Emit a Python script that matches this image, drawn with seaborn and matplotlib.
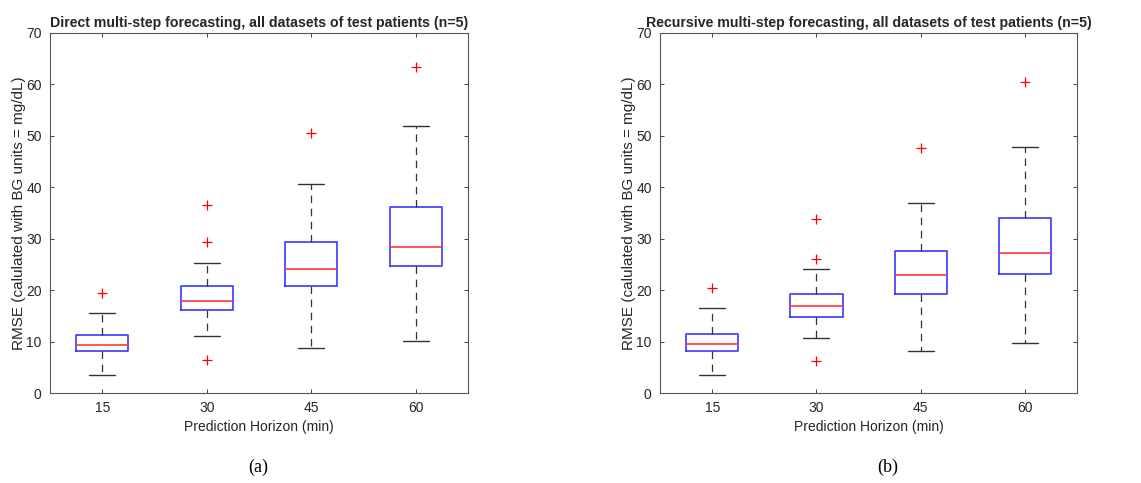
import numpy as np
import pandas as pd
import matplotlib
matplotlib.use("Agg")
import matplotlib.pyplot as plt
import seaborn as sns

# ---------------- data ----------------
horizons = ["15", "30", "45", "60"]

# five-number summaries: lower whisker, Q1, median, Q3, upper whisker
direct_whisker_low = [3.6, 11.1, 8.7, 10.2]
direct_q1 = [8.1, 16.1, 20.9, 24.6]
direct_median = [9.4, 17.8, 24.2, 28.4]
direct_q3 = [11.3, 20.9, 29.3, 36.2]
direct_whisker_high = [15.5, 25.3, 40.7, 52.0]
direct_outlier_h = ["15", "30", "30", "30", "45", "60"]
direct_outlier_v = [19.5, 6.4, 29.4, 36.6, 50.6, 63.4]

recursive_whisker_low = [3.6, 10.6, 8.1, 9.8]
recursive_q1 = [8.1, 14.8, 19.2, 23.1]
recursive_median = [9.5, 17.0, 22.9, 27.3]
recursive_q3 = [11.5, 19.2, 27.6, 34.0]
recursive_whisker_high = [16.5, 24.1, 36.9, 47.8]
recursive_outlier_h = ["15", "30", "30", "30", "45", "60"]
recursive_outlier_v = [20.5, 6.2, 26.1, 33.8, 47.6, 60.4]

titles = ["Direct multi-step forecasting, all datasets of test patients (n=5)",
          "Recursive multi-step forecasting, all datasets of test patients (n=5)"]
captions = ["(a)", "(b)"]
xlabel = "Prediction Horizon (min)"
ylabel = "RMSE (calulated with BG units = mg/dL)"


def summary_frame(lo, q1, med, q3, hi):
    rows = []
    for h, a, b, c, d, e in zip(horizons, lo, q1, med, q3, hi):
        for v in (a, b, c, d, e):
            rows.append({"horizon": h, "rmse": v})
    return pd.DataFrame(rows)


panels = [
    (summary_frame(direct_whisker_low, direct_q1, direct_median, direct_q3, direct_whisker_high),
     pd.DataFrame({"horizon": direct_outlier_h, "rmse": direct_outlier_v})),
    (summary_frame(recursive_whisker_low, recursive_q1, recursive_median, recursive_q3, recursive_whisker_high),
     pd.DataFrame({"horizon": recursive_outlier_h, "rmse": recursive_outlier_v})),
]

# ---------------- style ----------------
sns.set_style("white")
plt.rcParams["font.family"] = ["Liberation Sans", "DejaVu Sans"]
axcol = "#262626"
plt.rcParams.update({
    "axes.edgecolor": axcol,
    "axes.linewidth": 0.8,
    "xtick.color": axcol,
    "ytick.color": axcol,
    "text.color": axcol,
    "axes.labelcolor": axcol,
})

fig = plt.figure(figsize=(11.41, 4.83), dpi=100)
axes_pos = [[0.0438, 0.1863, 0.3663, 0.7454],
            [0.5785, 0.1863, 0.3655, 0.7454]]
caption_x = [0.226, 0.778]

for i, (box_df, out_df) in enumerate(panels):
    ax = fig.add_axes(axes_pos[i])
    sns.boxplot(data=box_df, x="horizon", y="rmse", order=horizons, ax=ax,
                whis=(0, 100), width=0.5, fill=False, color="blue",
                linewidth=1.0,
                boxprops={"color": "#3838ff", "linewidth": 1.2},
                medianprops={"color": "#ff3838", "linewidth": 1.2},
                whiskerprops={"color": "#333333", "linewidth": 0.9,
                              "linestyle": (0, (6, 4.5))},
                capprops={"color": "#333333", "linewidth": 1.0},
                showfliers=False)
    sns.stripplot(data=out_df, x="horizon", y="rmse", order=horizons, ax=ax,
                  jitter=False, marker="+", color="red", size=7.5, linewidth=0.9)
    ax.set_xlim(-0.5, 3.5)
    ax.set_ylim(0, 70)
    ax.set_yticks(np.arange(0, 71, 10))
    ax.set_title(titles[i], fontsize=10.2, fontweight="bold", pad=4)
    ax.set_xlabel(xlabel, fontsize=10, labelpad=3)
    ax.set_ylabel(ylabel, fontsize=11, labelpad=0)
    ax.tick_params(direction="in", length=3, width=0.6, labelsize=10,
                   top=True, right=True, bottom=True, left=True, pad=6)
    for s in ax.spines.values():
        s.set_visible(True)
        s.set_color("#555555")
    fig.text(caption_x[i], 0.033, captions[i], ha="center", va="center",
             fontsize=13, family=["Liberation Serif", "DejaVu Serif"], color="black")

fig.savefig("out.png", dpi=100)
